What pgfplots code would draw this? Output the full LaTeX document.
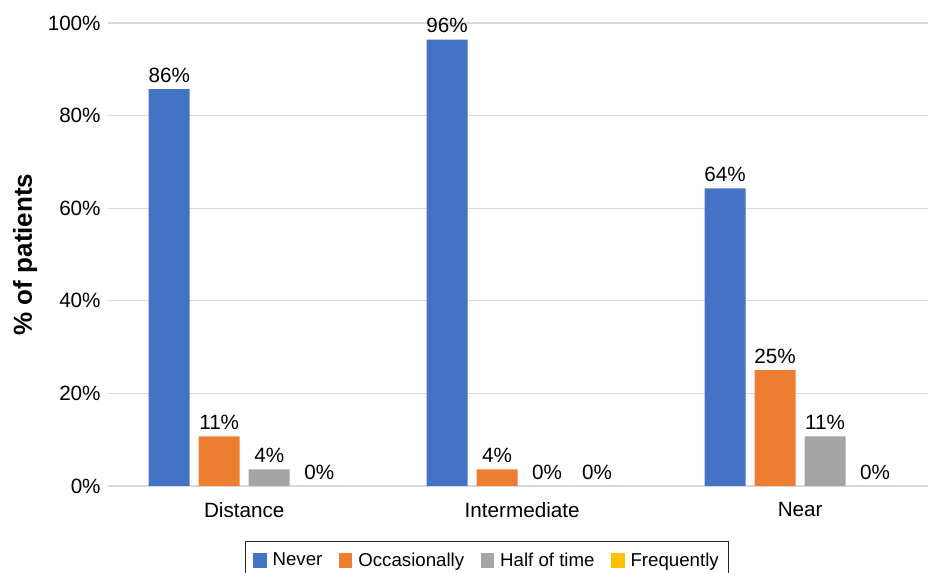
\documentclass[border=0pt]{standalone}
\usepackage{fontspec}
\setmainfont{Liberation Sans}
\usepackage{pgfplots}
\pgfplotsset{compat=1.18}
\definecolor{cNever}{HTML}{4472C4}
\definecolor{cOcc}{HTML}{ED7D31}
\definecolor{cHalf}{HTML}{A5A5A5}
\definecolor{cFreq}{HTML}{FFC000}
\definecolor{gridgray}{HTML}{D9D9D9}
\pgfplotsset{sqlegend/.style={legend image code/.code={\fill[##1] (0pt,-5.5pt) rectangle (10pt,5.5pt);}}}
\begin{document}
\begin{tikzpicture}[x=1pt,y=1pt]
\clip (-81,-65.25) rectangle (616.5,364.5);
\begin{axis}[
  at={(0,0)}, anchor=south west,
  scale only axis, width=615pt, height=347.25pt,
  ymin=0, ymax=100, xmin=-0.49, xmax=2.46,
  ytick={0,20,40,60,80,100},
  yticklabel={\pgfmathprintnumber{\tick}\%},
  xtick={0,1,2}, xticklabels={Distance,Intermediate,Near},
  /pgf/number format/assume math mode=true,
  ymajorgrids, grid style={color=gridgray, line width=1pt},
  axis line style={draw=none},
  major tick length=0pt,
  tick label style={font=\fontsize{15.5}{18}\selectfont, text=black},
  xticklabel style={yshift=-9pt},
  yticklabel style={xshift=-2pt},
  ybar=6.75pt, bar width=30.75pt,
  nodes near coords={\pgfmathprintnumber[fixed,precision=0]{\pgfplotspointmeta}\%},
  every node near coord/.append style={font=\fontsize{15.5}{18}\selectfont, text=black, yshift=1.5pt},
  ylabel={\% of patients},
  every axis y label/.style={at={(axis description cs:-0.1010,0.5)}, rotate=90, anchor=center, font=\fontsize{19.5}{22}\selectfont\bfseries},
  legend columns=4,
  legend style={at={(axis description cs:0.4622,-0.1188)}, anchor=north,
    draw=black!85, line width=0.75pt, font=\fontsize{14}{16}\selectfont,
    inner xsep=6pt, inner ysep=6.75pt,
    nodes={inner sep=1.5pt},
    /tikz/every odd column/.append style={column sep=3pt},
    /tikz/every even column/.append style={column sep=11pt}},
]
\addplot[fill=cNever, draw=none, sqlegend] coordinates {(0,85.7) (1,96.4) (2,64.3)};
\addplot[fill=cOcc, draw=none, sqlegend] coordinates {(0,10.7) (1,3.6) (2,25)};
\addplot[fill=cHalf, draw=none, sqlegend] coordinates {(0,3.6) (1,0) (2,10.7)};
\addplot[fill=cFreq, draw=none, sqlegend] coordinates {(0,0) (1,0) (2,0)};
\legend{Never,Occasionally,Half of time,Frequently}
\end{axis}
\end{tikzpicture}
\end{document}
